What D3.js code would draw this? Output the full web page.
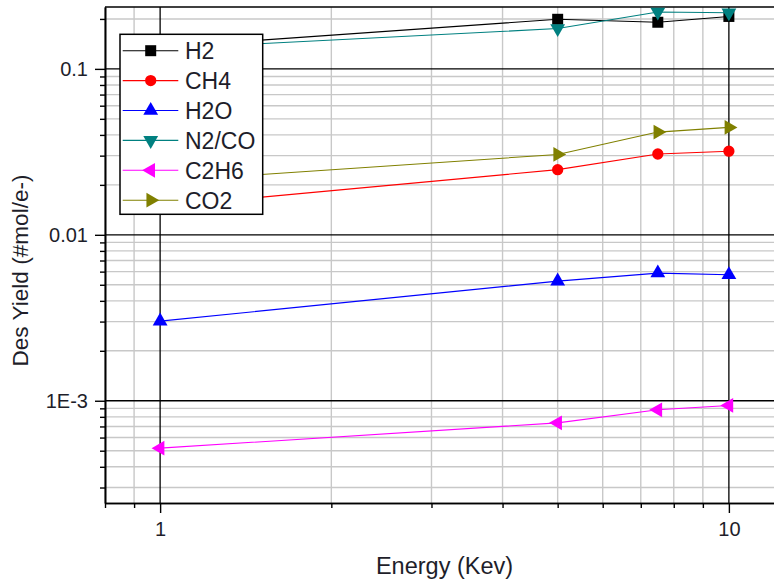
<!DOCTYPE html>
<html><head><meta charset="utf-8">
<script src="https://cdn.jsdelivr.net/npm/d3@7/dist/d3.min.js"></script>
<style>body{margin:0;background:#fff}svg{display:block}text{font-family:"Liberation Sans",Arial,sans-serif;fill:#1e1e2a}</style>
</head><body><svg id="c" width="774" height="583"></svg>
<script>
const energy = [1, 5, 7.5, 10];
const seriesNames = ["H2", "CH4", "H2O", "N2/CO", "C2H6", "CO2"];
const H2   = [0.135, 0.199, 0.191, 0.207];
const CH4  = [0.0148, 0.0247, 0.0307, 0.0319];
const H2O  = [0.00302, 0.00526, 0.00588, 0.00575];
const N2CO = [0.132, 0.175, 0.22, 0.218];
const C2H6 = [0.000518, 0.000736, 0.000882, 0.000937];
const CO2  = [0.021, 0.0305, 0.0416, 0.0444];
const seriesValues = [H2, CH4, H2O, N2CO, C2H6, CO2];
const colors = ["#000000", "#ff0000", "#0000ff", "#008080", "#ff00ff", "#808000"];
const xMajor = [1, 10];
const xMajorLabels = ["1", "10"];
const xMinor = [0.8, 0.9, 2, 3, 4, 5, 6, 7, 8, 9];
const yMajor = [0.001, 0.01, 0.1];
const yMajorLabels = ["1E-3", "0.01", "0.1"];
const yMinor = [];
[0.0001, 0.001, 0.01, 0.1].forEach(d => { for (let k = 2; k <= 9; k++) yMinor.push(+(d * k).toPrecision(3)); });
const xDomain = [0.8, 12.5];
const yDomain = [2.42e-4, 0.236];

const L = 105, T = 7, B = 503, R = 784;
const svg = d3.select("#c");
const x = d3.scaleLog().domain(xDomain).range([L, R]);
const y = d3.scaleLog().domain(yDomain).range([B, T]);
const yMinorIn = yMinor.filter(v => v >= yDomain[0] && v <= yDomain[1]);

const g = svg.append("g");
// minor grid
g.selectAll(".gx").data(xMinor).join("line").attr("x1", d => x(d)).attr("x2", d => x(d)).attr("y1", T).attr("y2", B)
  .attr("stroke", "#c8c8c8").attr("stroke-width", 1.4);
g.selectAll(".gy").data(yMinorIn).join("line").attr("y1", d => y(d)).attr("y2", d => y(d)).attr("x1", L).attr("x2", R)
  .attr("stroke", "#c8c8c8").attr("stroke-width", 1.4);
// major grid
g.selectAll(".mx").data(xMajor).join("line").attr("x1", d => x(d)).attr("x2", d => x(d)).attr("y1", T).attr("y2", B)
  .attr("stroke", "#000").attr("stroke-width", 1.3);
g.selectAll(".my").data(yMajor).join("line").attr("y1", d => y(d)).attr("y2", d => y(d)).attr("x1", L).attr("x2", R)
  .attr("stroke", "#000").attr("stroke-width", 1.3);

// axes
const ax = svg.append("g").attr("transform", `translate(0,${B})`)
  .call(d3.axisBottom(x).tickValues(xMajor).tickFormat((d, i) => xMajorLabels[i]).tickSize(10).tickSizeOuter(0).tickPadding(9));
const axm = svg.append("g").attr("transform", `translate(0,${B})`)
  .call(d3.axisBottom(x).tickValues(xMinor).tickFormat("").tickSize(5).tickSizeOuter(0));
const ay = svg.append("g").attr("transform", `translate(${L},0)`)
  .call(d3.axisLeft(y).tickValues(yMajor).tickFormat((d, i) => yMajorLabels[i]).tickSize(10).tickSizeOuter(0).tickPadding(7));
const aym = svg.append("g").attr("transform", `translate(${L},0)`)
  .call(d3.axisLeft(y).tickValues(yMinorIn).tickFormat("").tickSize(5).tickSizeOuter(0));
[ax, axm, ay, aym].forEach(a => {
  a.select(".domain").attr("stroke", "#000").attr("stroke-width", 1.6);
  a.selectAll(".tick line").attr("stroke", "#000").attr("stroke-width", 1.4);
  a.selectAll("text").style("font-size", "20px").attr("fill", "#1e1e2a");
});
svg.append("line").attr("x1", L).attr("x2", R).attr("y1", T).attr("y2", T).attr("stroke", "#000").attr("stroke-width", 1.6);

// axis titles
svg.append("text").attr("x", 444.5).attr("y", 574).attr("text-anchor", "middle").style("font-size", "23.5px").text("Energy (Kev)");
svg.append("text").attr("transform", "translate(28,270.5) rotate(-90)").attr("text-anchor", "middle").style("font-size", "22.6px").text("Des Yield (#mol/e-)");

// markers
const symTypes = [d3.symbolSquare, d3.symbolCircle, d3.symbolTriangle, d3.symbolTriangle, d3.symbolTriangle, d3.symbolTriangle];
const symSizes = [121, 100, 95, 95, 95, 95];
const symRot = [0, 0, 0, 180, -90, 90];
function marker(sel, i) {
  sel.attr("d", d3.symbol().type(symTypes[i]).size(symSizes[i])()).attr("fill", colors[i]);
}

const line = d3.line().x((d, j) => x(energy[j])).y(d => y(d));
seriesValues.forEach((vals, i) => {
  const sg = svg.append("g");
  sg.append("path").attr("d", line(vals)).attr("fill", "none").attr("stroke", colors[i]).attr("stroke-width", 1.1);
  sg.selectAll("path.m").data(vals).join("path").attr("class", "m")
    .attr("transform", (d, j) => `translate(${x(energy[j])},${y(d)}) rotate(${symRot[i]})`)
    .call(s => marker(s, i));
});

// legend
const lg = svg.append("g");
lg.append("rect").attr("x", 120).attr("y", 34.3).attr("width", 142.7).attr("height", 180)
  .attr("fill", "#fff").attr("stroke", "#000").attr("stroke-width", 1.5);
seriesNames.forEach((n, i) => {
  const yy = 50.7 + i * 29.9;
  lg.append("line").attr("x1", 122.7).attr("x2", 178.3).attr("y1", yy).attr("y2", yy).attr("stroke", colors[i]).attr("stroke-width", 1.1);
  lg.append("path").attr("transform", `translate(150.7,${yy}) rotate(${symRot[i]})`).call(s => marker(s, i));
  lg.append("text").attr("x", 185).attr("y", yy + 8.3).style("font-size", "23px").text(n);
});
</script></body></html>
